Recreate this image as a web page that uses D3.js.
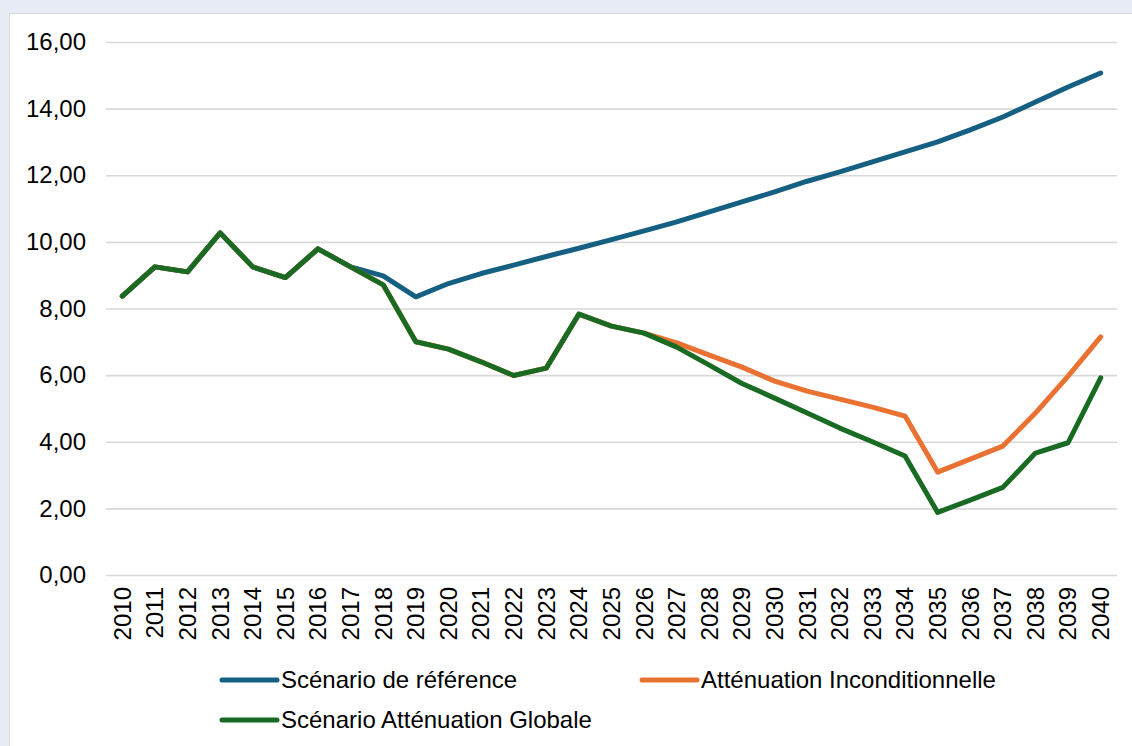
<!DOCTYPE html>
<html>
<head>
<meta charset="utf-8">
<script src="https://cdn.jsdelivr.net/npm/d3@7"></script>
<style>
  html, body { margin: 0; padding: 0; background: #e8ecf5; }
  svg { display: block; }
  text { font-family: "Liberation Sans", Arial, sans-serif; fill: #000; }
</style>
</head>
<body>
<script>
const width = 1132;
const height = 746;

const years = d3.range(2010, 2041).map(String);

const reference = [8.37, 9.25, 9.1, 10.27, 9.25, 8.93, 9.79, 9.25, 8.98, 8.35,
  8.75, 9.05, 9.3, 9.56, 9.81, 10.07, 10.33, 10.6, 10.9, 11.2,
  11.5, 11.82, 12.1, 12.4, 12.7, 13.0, 13.36, 13.75, 14.2, 14.65, 15.07];

const unconditional = [8.37, 9.25, 9.1, 10.27, 9.25, 8.93, 9.79, 9.25, 8.71, 7.0,
  6.78, 6.4, 5.99, 6.21, 7.83, 7.47, 7.26, 6.97, 6.6, 6.24,
  5.82, 5.52, 5.28, 5.04, 4.77, 3.09, 3.48, 3.87, 4.86, 5.97, 7.15];

const global = [8.37, 9.25, 9.1, 10.27, 9.25, 8.93, 9.79, 9.25, 8.71, 7.0,
  6.78, 6.4, 5.99, 6.21, 7.83, 7.47, 7.26, 6.84, 6.3, 5.75,
  5.31, 4.86, 4.41, 4.0, 3.57, 1.88, 2.25, 2.63, 3.66, 3.97, 5.92];

const yTicks = [0, 2, 4, 6, 8, 10, 12, 14, 16];

const series = [
  {name: "Scénario de référence", values: reference, color: "#156082"},
  {name: "Atténuation Inconditionnelle", values: unconditional, color: "#e97132"},
  {name: "Scénario Atténuation Globale", values: global, color: "#196b24"}
];

const fontSize = 24;

const svg = d3.select("body").append("svg")
    .attr("width", width)
    .attr("height", height);

// white chart panel
svg.append("rect")
    .attr("x", 9.5).attr("y", 13.5)
    .attr("width", width).attr("height", height)
    .attr("fill", "#fff")
    .attr("stroke", "#d9d9d9");

const x = d3.scaleBand()
    .domain(years)
    .range([106, 1117]);

const y = d3.scaleLinear()
    .domain([0, 16])
    .range([575, 42]);

const fmt = d => d3.format(".2f")(d).replace(".", ",");

// grid + y labels
const yAxis = svg.append("g")
    .attr("transform", "translate(106,0)")
    .call(d3.axisLeft(y).tickValues(yTicks).tickFormat(fmt)
        .tickSize(-(1117 - 106)).tickPadding(20));
yAxis.select(".domain").remove();
yAxis.selectAll(".tick line").attr("stroke", "#d9d9d9").attr("stroke-width", 1.6);
yAxis.selectAll(".tick text")
    .attr("font-size", fontSize)
    .attr("font-family", "Liberation Sans, Arial, sans-serif")
    .attr("fill", "#000");

// x labels
const xAxis = svg.append("g")
    .attr("transform", "translate(0,575)")
    .call(d3.axisBottom(x).tickSize(0).tickPadding(0));
xAxis.select(".domain").remove();
xAxis.selectAll(".tick text")
    .attr("font-size", fontSize)
    .attr("font-family", "Liberation Sans, Arial, sans-serif")
    .attr("fill", "#000")
    .attr("transform", "rotate(-90)")
    .attr("text-anchor", "end")
    .attr("x", -12)
    .attr("y", 0)
    .attr("dy", "0.35em");

const line = d3.line()
    .x((d, i) => x(years[i]) + x.bandwidth() / 2)
    .y(d => y(d));

svg.append("g")
  .selectAll("path")
  .data(series)
  .join("path")
    .attr("d", d => line(d.values))
    .attr("fill", "none")
    .attr("stroke", d => d.color)
    .attr("stroke-width", 5)
    .attr("stroke-linejoin", "round")
    .attr("stroke-linecap", "round");

// legend
const legendPos = [[222, 680], [642, 680], [222, 720]];
const legend = svg.append("g")
  .selectAll("g")
  .data(series)
  .join("g")
    .attr("transform", (d, i) => `translate(${legendPos[i][0]},${legendPos[i][1]})`);

legend.append("line")
    .attr("x1", 0).attr("x2", 55)
    .attr("stroke", d => d.color)
    .attr("stroke-width", 5)
    .attr("stroke-linecap", "round");

legend.append("text")
    .attr("x", 59)
    .attr("dy", "0.35em")
    .attr("font-size", fontSize)
    .text(d => d.name);
</script>
</body>
</html>
